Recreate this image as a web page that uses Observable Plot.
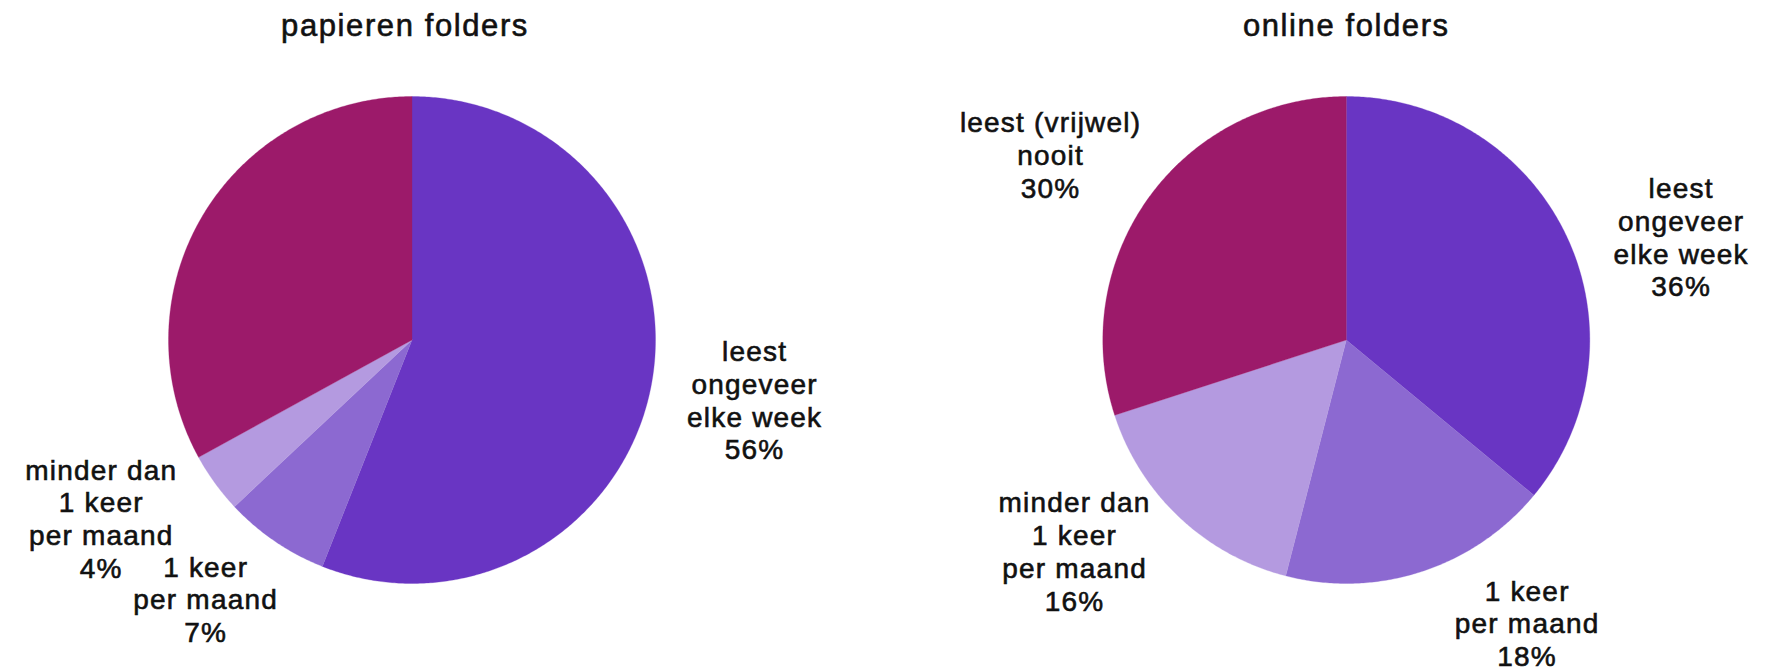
<!DOCTYPE html>
<html><head><meta charset="utf-8">
<script src="https://cdn.jsdelivr.net/npm/d3@7"></script>
<script src="https://cdn.jsdelivr.net/npm/@observablehq/plot@0.6"></script>
<style>
html,body{margin:0;padding:0;background:#fff;}
#charts{display:flex;width:1780px;height:668px;overflow:hidden;}
#charts svg text{stroke:#111;stroke-width:0.6px;}
</style></head><body><div id="charts"></div>
<script>
// ---- data ----
const categories = ["leest ongeveer elke week", "1 keer per maand", "minder dan 1 keer per maand", "leest (vrijwel) nooit"];
const labelLines = ["leest\nongeveer\nelke week", "1 keer\nper maand", "minder dan\n1 keer\nper maand", "leest (vrijwel)\nnooit"];
const chartTitles = ["papieren folders", "online folders"];
const paperValues = [56, 7, 4, 33];
const onlineValues = [36, 18, 16, 30];
const paperLabelShown = [true, true, true, false];
const onlineLabelShown = [true, true, true, true];

// ---- styles / layout ----
const sliceColors = ["#6935c3", "#8c69d1", "#b49ae0", "#9c1a6a"];
const R = 243.5;
const layouts = [
  {width: 890, cx: 411.5, titleDx: -7, nudges: [[3, -5], [-12, -27], [-31, -25], [0, 0]]},
  {width: 890, cx: 455.8, titleDx: 0, nudges: [[22, 44], [74, -46], [-35, -41], [-16, 18]]}
];
const cy = 339.5, H = 668;

function piePlot(values, shown, title, lay) {
  const arcs = d3.pie().sort(null).value(d => d)(values);
  const pts = [];
  arcs.forEach((a, i) => {
    const n = Math.max(2, Math.ceil((a.endAngle - a.startAngle) / (Math.PI / 360)));
    pts.push({cat: categories[i], x: 0, y: 0});
    for (let k = 0; k <= n; k++) {
      const t = a.startAngle + (a.endAngle - a.startAngle) * k / n;
      pts.push({cat: categories[i], x: Math.sin(t), y: Math.cos(t)});
    }
    pts.push({cat: categories[i], x: 0, y: 0});
  });
  const labelMarks = arcs.map((a, i) => {
    if (!shown[i]) return null;
    const m = (a.startAngle + a.endAngle) / 2;
    const d = {x: 1.42 * Math.sin(m), y: 1.42 * Math.cos(m), text: labelLines[i] + "\n" + values[i] + "%"};
    return Plot.text([d], {x: "x", y: "y", text: "text", dx: lay.nudges[i][0], dy: lay.nudges[i][1],
      fontSize: 28, lineHeight: 1.17, textAnchor: "middle", lineAnchor: "middle", fill: "#111"});
  }).filter(Boolean);
  const svg = Plot.plot({
    width: lay.width, height: H,
    marginLeft: lay.cx - R, marginRight: lay.width - lay.cx - R,
    marginTop: cy - R, marginBottom: H - cy - R,
    x: {domain: [-1, 1], axis: null},
    y: {domain: [-1, 1], axis: null},
    color: {domain: categories, range: sliceColors},
    style: {fontFamily: "'Liberation Sans', Arial, sans-serif", background: "#fff", overflow: "visible"},
    marks: [
      Plot.line(pts, {x: "x", y: "y", z: "cat", fill: "cat", stroke: "cat", strokeWidth: 0.3, curve: "linear"}),
      ...labelMarks,
      Plot.text([title], {x: () => 0, frameAnchor: "top", text: d => d, dx: lay.titleDx, dy: 35 - (cy - R),
        lineAnchor: "bottom", fontSize: 31, fill: "#111", className: "pie-title"})
    ]
  });
  svg.querySelectorAll("text").forEach(t => {
    const isTitle = t.closest(".pie-title");
    t.style.letterSpacing = isTitle ? "1.6px" : "1.2px";
  });
  return svg;
}

const host = document.getElementById("charts");
host.append(piePlot(paperValues, paperLabelShown, chartTitles[0], layouts[0]));
host.append(piePlot(onlineValues, onlineLabelShown, chartTitles[1], layouts[1]));
</script></body></html>
